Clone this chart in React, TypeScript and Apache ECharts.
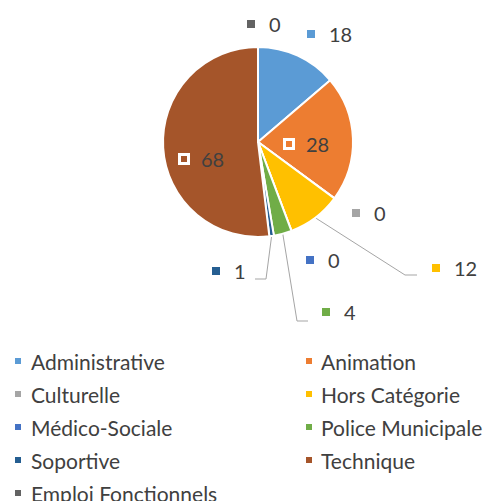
import React, { useEffect, useRef } from "react";
import * as echarts from "echarts";

const categories = [
  "Administrative",
  "Animation",
  "Culturelle",
  "Hors Catégorie",
  "Médico-Sociale",
  "Police Municipale",
  "Soportive",
  "Technique",
  "Emploi Fonctionnels",
];
const values = [18, 28, 0, 12, 0, 4, 1, 68, 0];
const colors = ["#5B9BD5", "#ED7D31", "#A5A5A5", "#FFC000", "#4472C4", "#70AD47", "#255E91", "#A5552A", "#636363"];
const legendLeft = ["Administrative", "Culturelle", "Médico-Sociale", "Soportive", "Emploi Fonctionnels"];
const legendRight = ["Animation", "Hors Catégorie", "Police Municipale", "Technique"];

// label placement (style): marker-left x, middle y; inside labels; leader-line bends
const labelPos: Record<string, { x: number; y: number; inside?: boolean; line?: number[][] }> = {
  Administrative: { x: 307, y: 34 },
  Animation: { x: 286, y: 144, inside: true },
  Culturelle: { x: 352, y: 213 },
  "Hors Catégorie": { x: 432, y: 268, line: [[405, 275], [417, 275]] },
  "Médico-Sociale": { x: 306, y: 260 },
  "Police Municipale": { x: 322, y: 312, line: [[297, 321], [308, 321]] },
  Soportive: { x: 212, y: 271, line: [[266, 279], [255, 279]] },
  Technique: { x: 181, y: 159, inside: true },
  "Emploi Fonctionnels": { x: 247, y: 24 },
};

const FONT = "Lato, 'Open Sans', sans-serif";

export default function App() {
  const ref = useRef<HTMLDivElement>(null);
  useEffect(() => {
    if (!ref.current) return;
    const chart = echarts.init(ref.current, undefined, { renderer: "svg" });
    const rich: any = {
      v: { color: "#404040", fontSize: 20, fontFamily: FONT },
      g: { width: 14 },
    };
    categories.forEach((c, i) => {
      rich["m" + i] = { width: 8, height: 8, backgroundColor: colors[i] };
      rich["w" + i] = { width: 6, height: 6, backgroundColor: colors[i], borderColor: "#ffffff", borderWidth: 3 };
    });
    const data = categories.map((name, i) => ({
      name,
      value: values[i],
      itemStyle: { color: colors[i] },
      labelLine: { show: !!labelPos[name].line },
    }));
    const legendBase = {
      orient: "vertical",
      top: 349,
      height: 200,
      padding: 0,
      icon: "rect",
      itemWidth: 8,
      itemHeight: 8,
      itemGap: 9,
      selectedMode: false,
    };
    chart.setOption({
      animation: false,
      backgroundColor: "#ffffff",
      legend: [
        {
          ...legendBase,
          data: legendLeft,
          left: 13,
          textStyle: { color: "#404040", fontSize: 21, fontFamily: FONT, lineHeight: 24, padding: [0, 0, 0, 4] },
        },
        {
          ...legendBase,
          data: legendRight,
          left: 304,
          textStyle: { color: "#404040", fontSize: 21, fontFamily: FONT, lineHeight: 24, padding: [0, 0, 0, 3] },
        },
      ],
      series: [
        {
          type: "pie",
          center: [258, 142],
          radius: 95,
          startAngle: 90,
          clockwise: true,
          avoidLabelOverlap: false,
          minShowLabelAngle: 0,
          itemStyle: { borderColor: "#ffffff", borderWidth: 2 },
          data,
          label: {
            show: true,
            formatter: (p: any) => {
              const i = p.dataIndex;
              const inside = labelPos[categories[i]].inside;
              return `{${inside ? "w" : "m"}${i}|}{g|}{v|${p.value}}`;
            },
            rich,
          },
          labelLine: { show: true, lineStyle: { color: "#A5A5A5", width: 1 }, length: 10, length2: 10 },
          labelLayout: (p: any) => {
            const name = categories[p.dataIndex];
            const pos = labelPos[name];
            const res: any = { x: pos.x, y: pos.y, align: "left", verticalAlign: "middle" };
            if (pos.line && p.labelLinePoints) {
              res.labelLinePoints = [p.labelLinePoints[0], ...pos.line];
            }
            return res;
          },
          emphasis: { disabled: true },
        },
      ],
    });
    return () => chart.dispose();
  }, []);
  return <div ref={ref} style={{ position: "fixed", left: 0, top: 0, width: 491, height: 501 }} />;
}
